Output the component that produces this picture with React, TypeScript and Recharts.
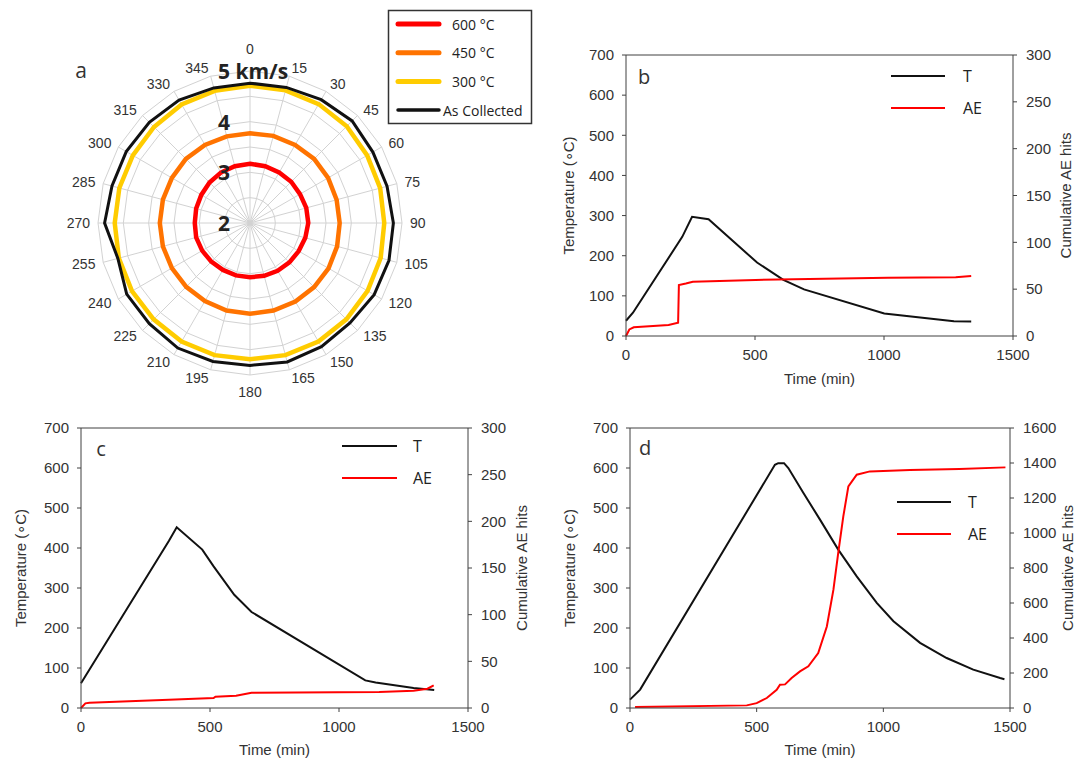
import React from 'react';
import { RadarChart, Radar, PolarGrid, PolarAngleAxis, PolarRadiusAxis, LineChart, Line, XAxis, YAxis, ReferenceLine } from 'recharts';

// panel a: velocity (km/s) by direction
const angles = [0, 15, 30, 45, 60, 75, 90, 105, 120, 135, 150, 165, 180, 195, 210, 225, 240, 255, 270, 285, 300, 315, 330, 345];
const v600 = [3.17, 3.16, 3.15, 3.15, 3.14, 3.15, 3.15, 3.13, 3.11, 3.1, 3.09, 3.08, 3.07, 3.07, 3.07, 3.08, 3.09, 3.1, 3.09, 3.1, 3.11, 3.13, 3.15, 3.16];
const v450 = [3.77, 3.78, 3.78, 3.79, 3.78, 3.77, 3.77, 3.78, 3.79, 3.79, 3.79, 3.79, 3.79, 3.79, 3.78, 3.78, 3.78, 3.78, 3.78, 3.78, 3.78, 3.79, 3.78, 3.77];
const v300 = [4.71, 4.71, 4.71, 4.7, 4.67, 4.66, 4.65, 4.67, 4.68, 4.69, 4.7, 4.7, 4.69, 4.7, 4.7, 4.69, 4.69, 4.68, 4.67, 4.67, 4.67, 4.68, 4.7, 4.7];
const vCollected = [4.76, 4.77, 4.81, 4.85, 4.8, 4.8, 4.83, 4.84, 4.83, 4.79, 4.82, 4.84, 4.81, 4.83, 4.85, 4.81, 4.81, 4.7, 4.87, 4.82, 4.82, 4.81, 4.8, 4.76];
const radiusTicks = [2, 2.5, 3, 3.5, 4, 4.5, 5];

// panel b
const bTempTime = [0, 27, 218, 256, 320, 508, 610, 690, 1001, 1271, 1338];
const bTemp = [38, 58, 247, 297, 291, 183, 140, 116, 56, 37, 36];
const bAETime = [0, 13, 30, 165, 202, 205, 232, 259, 502, 1015, 1278, 1338];
const bAE = [0, 7, 9.3, 11.7, 14.2, 54.4, 56, 58, 59.8, 62.3, 62.6, 64];

// panel c
const cTempTime = [0, 341, 371, 470, 514, 594, 661, 1102, 1142, 1289, 1369];
const cTemp = [62, 418, 452, 396, 354, 283, 240, 69, 64, 50, 45];
const cAETime = [0, 17, 33, 341, 514, 521, 601, 661, 1156, 1289, 1343, 1367];
const cAE = [0, 5, 5.7, 8.9, 10.7, 12.1, 13.2, 16.4, 17.1, 18.6, 20.7, 24.3];

// panel d
const dTempTime = [0, 40, 572, 585, 608, 625, 684, 750, 822, 895, 974, 1040, 1145, 1250, 1355, 1461, 1478];
const dTemp = [21, 46, 608, 612, 612, 600, 538, 471, 396, 329, 263, 217, 163, 125, 96, 75, 72];
const dAETime = [20, 461, 500, 540, 579, 592, 612, 638, 671, 704, 743, 777, 803, 822, 842, 862, 895, 947, 1105, 1300, 1482];
const dAE = [6, 15, 28, 57, 104, 133, 135, 171, 209, 238, 314, 466, 676, 886, 1095, 1266, 1333, 1352, 1360, 1366, 1375];

const timeTicks = [0, 500, 1000, 1500];
const tempTicks = [0, 100, 200, 300, 400, 500, 600, 700];
const aeTicksSmall = [0, 50, 100, 150, 200, 250, 300];
const aeTicksLarge = [0, 200, 400, 600, 800, 1000, 1200, 1400, 1600];

const radarSeries = [
  { key: 'c600', name: '600 °C', color: '#ff0000', width: 4.5 },
  { key: 'c450', name: '450 °C', color: '#ff7300', width: 4.5 },
  { key: 'c300', name: '300 °C', color: '#ffcc00', width: 4.5 },
  { key: 'asCollected', name: 'As Collected', color: '#111111', width: 3 },
];

const radarRows = angles.map((a, i) => ({
  angle: String(a),
  c600: v600[i],
  c450: v450[i],
  c300: v300[i],
  asCollected: vCollected[i],
}));

const pts = (ts: number[], vs: number[]) => ts.map((t, i) => ({ t, v: vs[i] }));

const CX = 250;
const CY = 223;
const R = 152;
const AXIS = '#404040';
const TXT = '#333';
const SANS = '"Liberation Sans", Arial, sans-serif';
const OPEN = '"Open Sans", sans-serif';

// labels sit just outside the ring, left/right aligned like the original
function AngleTick(props: any) {
  const deg = Number(props.payload.value);
  const rad = (deg * Math.PI) / 180;
  const common = { fontSize: 14, fill: TXT, fontFamily: SANS };
  if (deg === 0) return <text x={CX} y={CY - 169} textAnchor="middle" {...common}>{deg}</text>;
  if (deg === 180) return <text x={CX} y={CY + 174} textAnchor="middle" {...common}>{deg}</text>;
  const x = CX + Math.sin(rad) * 160;
  const y = CY - Math.cos(rad) * 160;
  return (
    <text x={x} y={y} textAnchor={deg < 180 ? 'start' : 'end'} dominantBaseline="central" {...common}>
      {deg}
    </text>
  );
}

function RadiusTick(props: any) {
  const v = Number(props.payload.value);
  if (!Number.isInteger(v)) return <g />;
  return (
    <text x={CX - 32} y={props.y} dominantBaseline="central" fontFamily={OPEN} fontWeight={700} fontSize={21} fill="#222">
      {v === 5 ? '5 km/s' : v}
    </text>
  );
}

function RadarPanel() {
  return (
    <div style={{ position: 'absolute', left: 0, top: 0, width: 540, height: 410 }}>
      <RadarChart width={540} height={410} cx={CX} cy={CY} outerRadius={R} data={radarRows}>
        <PolarGrid stroke="#d2d2d2" />
        <PolarAngleAxis dataKey="angle" tick={(p: any) => <AngleTick {...p} />} tickLine={false} axisLine={false} />
        <PolarRadiusAxis angle={90} domain={[2, 5]} ticks={radiusTicks} tickCount={7} axisLine={false} tick={(p: any) => <RadiusTick {...p} />} />
        {radarSeries.map((s) => (
          <Radar key={s.key} dataKey={s.key} name={s.name} stroke={s.color} strokeWidth={s.width} fill="none" fillOpacity={0} dot={false} isAnimationActive={false} />
        ))}
      </RadarChart>
      <svg width={540} height={410} style={{ position: 'absolute', left: 0, top: 0, pointerEvents: 'none' }}>
        <text x={81} y={70} textAnchor="middle" dominantBaseline="central" fontFamily={OPEN} fontSize={21} fill={TXT}>a</text>
        <rect x={388.5} y={10.5} width={143} height={113} fill="#fff" stroke="#333" strokeWidth={1.5} />
        {radarSeries.map((s, i) => (
          <g key={s.key}>
            <line x1={398} x2={439} y1={24 + i * 28.7} y2={24 + i * 28.7} stroke={s.color} strokeWidth={s.width + 0.5} strokeLinecap="round" />
            <text x={i === 3 ? 443 : 452} y={24 + i * 28.7} dominantBaseline="central" fontFamily={OPEN} fontSize={14} fill="#222">{s.name}</text>
          </g>
        ))}
      </svg>
    </div>
  );
}

type PanelProps = {
  letter: string;
  left: number;
  top: number;
  width: number;
  height: number;
  margin: { top: number; right: number; bottom: number; left: number };
  temp: { t: number; v: number }[];
  ae: { t: number; v: number }[];
  aeMax: number;
  aeTicks: number[];
  leftOff: number;
  rightOff: number;
  bottomOff: number;
  legend: { x1: number; x2: number; tx: number; y: number; gap: number };
  letterPos: { x: number; y: number };
};

function TempPanel(p: PanelProps) {
  const axisProps = { stroke: AXIS, tick: { fill: TXT, fontSize: 15, fontFamily: SANS }, tickSize: 4 };
  return (
    <div style={{ position: 'absolute', left: p.left, top: p.top, width: p.width, height: p.height, fontFamily: SANS }}>
      <LineChart width={p.width} height={p.height} margin={p.margin}>
        <XAxis
          type="number"
          dataKey="t"
          domain={[0, 1500]}
          ticks={timeTicks}
          height={50}
          tickMargin={9}
          {...axisProps}
          label={{ value: 'Time (min)', position: 'insideBottom', offset: p.bottomOff, fill: TXT, fontSize: 15 }}
        />
        <YAxis
          yAxisId="left"
          domain={[0, 700]}
          ticks={tempTicks}
          width={65}
          tickMargin={8}
          {...axisProps}
          label={{ value: 'Temperature (∘C)', angle: -90, position: 'insideLeft', offset: p.leftOff, fill: TXT, fontSize: 15, style: { textAnchor: 'middle' } }}
        />
        <YAxis
          yAxisId="right"
          orientation="right"
          domain={[0, p.aeMax]}
          ticks={p.aeTicks}
          width={70}
          tickMargin={9}
          {...axisProps}
          label={{ value: 'Cumulative AE hits', angle: -90, position: 'insideRight', offset: p.rightOff, fill: TXT, fontSize: 15, style: { textAnchor: 'middle' } }}
        />
        <ReferenceLine yAxisId="left" y={700} stroke={AXIS} />
        <Line yAxisId="left" data={p.temp} dataKey="v" stroke="#111" strokeWidth={2} dot={false} isAnimationActive={false} />
        <Line yAxisId="right" data={p.ae} dataKey="v" stroke="#ff0000" strokeWidth={2} dot={false} isAnimationActive={false} />
      </LineChart>
      <svg width={p.width} height={p.height} style={{ position: 'absolute', left: 0, top: 0, pointerEvents: 'none' }}>
        <text x={p.letterPos.x} y={p.letterPos.y} textAnchor="middle" dominantBaseline="central" fontFamily={OPEN} fontSize={20} fill={TXT}>{p.letter}</text>
        <line x1={p.legend.x1} x2={p.legend.x2} y1={p.legend.y} y2={p.legend.y} stroke="#111" strokeWidth={2} />
        <text x={p.legend.tx} y={p.legend.y} dominantBaseline="central" fontFamily={OPEN} fontSize={16} fill="#222">T</text>
        <line x1={p.legend.x1} x2={p.legend.x2} y1={p.legend.y + p.legend.gap} y2={p.legend.y + p.legend.gap} stroke="#ff0000" strokeWidth={2} />
        <text x={p.legend.tx} y={p.legend.y + p.legend.gap} dominantBaseline="central" fontFamily={OPEN} fontSize={16} fill="#222">AE</text>
      </svg>
    </div>
  );
}

export default function App() {
  return (
    <div style={{ position: 'absolute', left: 0, top: 0, width: 1086, height: 761, background: '#fff', fontFamily: SANS }}>
      <RadarPanel />
      <TempPanel
        letter="b"
        left={540}
        top={40}
        width={546}
        height={350}
        margin={{ top: 15, right: 3, bottom: 4, left: 21 }}
        temp={pts(bTempTime, bTemp)}
        ae={pts(bAETime, bAE)}
        aeMax={300}
        aeTicks={aeTicksSmall}
        leftOff={8}
        rightOff={17}
        bottomOff={2}
        legend={{ x1: 351, x2: 405, tx: 423, y: 36, gap: 32 }}
        letterPos={{ x: 104, y: 36 }}
      />
      <TempPanel
        letter="c"
        left={0}
        top={415}
        width={540}
        height={346}
        margin={{ top: 13, right: 2, bottom: 3, left: 16 }}
        temp={pts(cTempTime, cTemp)}
        ae={pts(cAETime, cAE)}
        aeMax={300}
        aeTicks={aeTicksSmall}
        leftOff={5}
        rightOff={16}
        bottomOff={3}
        legend={{ x1: 342, x2: 397, tx: 413, y: 31, gap: 32 }}
        letterPos={{ x: 101, y: 33 }}
      />
      <TempPanel
        letter="d"
        left={540}
        top={415}
        width={546}
        height={346}
        margin={{ top: 13, right: 6, bottom: 3, left: 25 }}
        temp={pts(dTempTime, dTemp)}
        ae={pts(dAETime, dAE)}
        aeMax={1600}
        aeTicks={aeTicksLarge}
        leftOff={5}
        rightOff={12}
        bottomOff={3}
        legend={{ x1: 357, x2: 411, tx: 428, y: 87, gap: 32 }}
        letterPos={{ x: 105, y: 32 }}
      />
    </div>
  );
}
